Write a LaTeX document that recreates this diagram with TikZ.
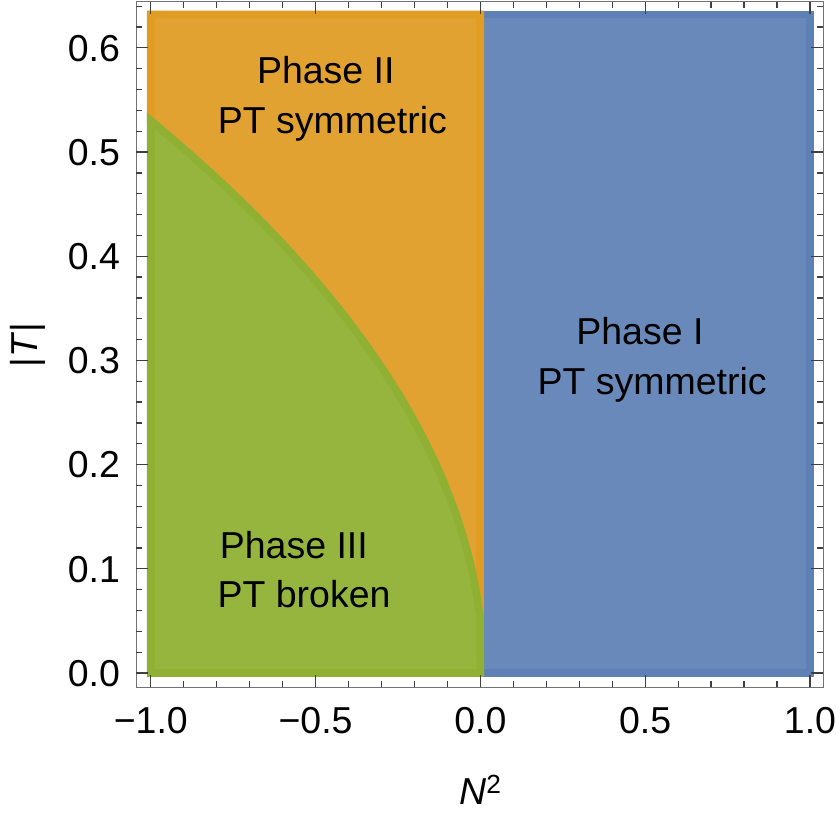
\documentclass[tikz,border=0pt]{standalone}
\usepackage{fontspec}
\setmainfont{Liberation Sans}
\definecolor{phaseblue}{rgb}{0.368417,0.506779,0.709798}
\definecolor{phaseorange}{rgb}{0.880722,0.611041,0.142051}
\definecolor{phasegreen}{rgb}{0.560181,0.691569,0.194885}
\begin{document}
\begin{tikzpicture}[x=9.888cm,y=31.26cm,font=\fontsize{32}{38}\selectfont,
	region/.style={line width=6.5pt,draw=#1,fill=#1!94!white},
	tickmark/.style={black!75,line width=1.1pt},
	phaselab/.style={anchor=base}]
		\useasboundingbox (-1.4575,-0.1507) rectangle (1.0789,0.6459);
		\def\g(#1){sqrt(0.0025-0.2785*(#1))};
		\coordinate (sw) at (-1.044,-0.0137);
		\coordinate (ne) at (1.040,0.6442);
		\draw[region=phaseblue] (0,0) rectangle (1,0.632);
		\draw[region=phaseorange] (-1,0.632)
		-- plot[domain=-1:0,samples=120,smooth](\x,{\g(\x)}) -- (0,0.632) -- cycle;
		\draw[region=phasegreen] (-1,0)
		-- plot[domain=-1:0,samples=120,smooth](\x,{\g(\x)}) -- (0,0) -- cycle;
		\draw[black!55,line width=1.1pt] (sw) rectangle (ne);
		\foreach \i in {-10,...,10}{
			\draw[tickmark] (sw -| {\i/10,0}) -- ++(0,0.18cm);
			\draw[tickmark] (ne -| {\i/10,0}) -- ++(0,-0.18cm);
		}
		\foreach \i in {0,...,32}{
			\draw[tickmark] (sw |- {0,\i/50}) -- ++(0.18cm,0);
			\draw[tickmark] (ne |- {0,\i/50}) -- ++(-0.18cm,0);
		}
		\foreach \v/\t [count=\k] in {-1/−1.0,-0.5/−0.5,0/0.0,0.5/0.5,1/1.0}{
			\draw[tickmark] (sw -| {\v,0}) -- ++(0,0.36cm);
			\draw[tickmark] (ne -| {\v,0}) -- ++(0,-0.36cm);
			\node[anchor=base] (xlab\k) at (\v,-0.0576) {\t};
		}
		\foreach \v/\t [count=\k] in {0/0.0,0.1/0.1,0.2/0.2,0.3/0.3,0.4/0.4,0.5/0.5,0.6/0.6}{
			\draw[tickmark] (sw |- {0,\v}) -- ++(0.36cm,0);
			\draw[tickmark] (ne |- {0,\v}) -- ++(-0.36cm,0);
			\node[anchor=base east] (ylab\k) at (-1.081,\v-0.0128) {\t};
		}
		\node (xtitle) at (0,-0.112) {\textit{N}\textsuperscript{2}};
		\node[rotate=90] (ytitle) at (-1.3726,0.315) {|\textit{T}|};
		\node[phaselab] (twoa) at (-0.469,0.566) {Phase II};
		\node[phaselab] (twob) at (-0.449,0.518) {PT symmetric};
		\node[phaselab] (onea) at (0.484,0.315) {Phase I};
		\node[phaselab] (oneb) at (0.521,0.267) {PT symmetric};
		\node[phaselab] (threea) at (-0.566,0.110) {Phase III};
		\node[phaselab] (threeb) at (-0.535,0.0633) {PT broken};
		\end{tikzpicture}
\end{document}
